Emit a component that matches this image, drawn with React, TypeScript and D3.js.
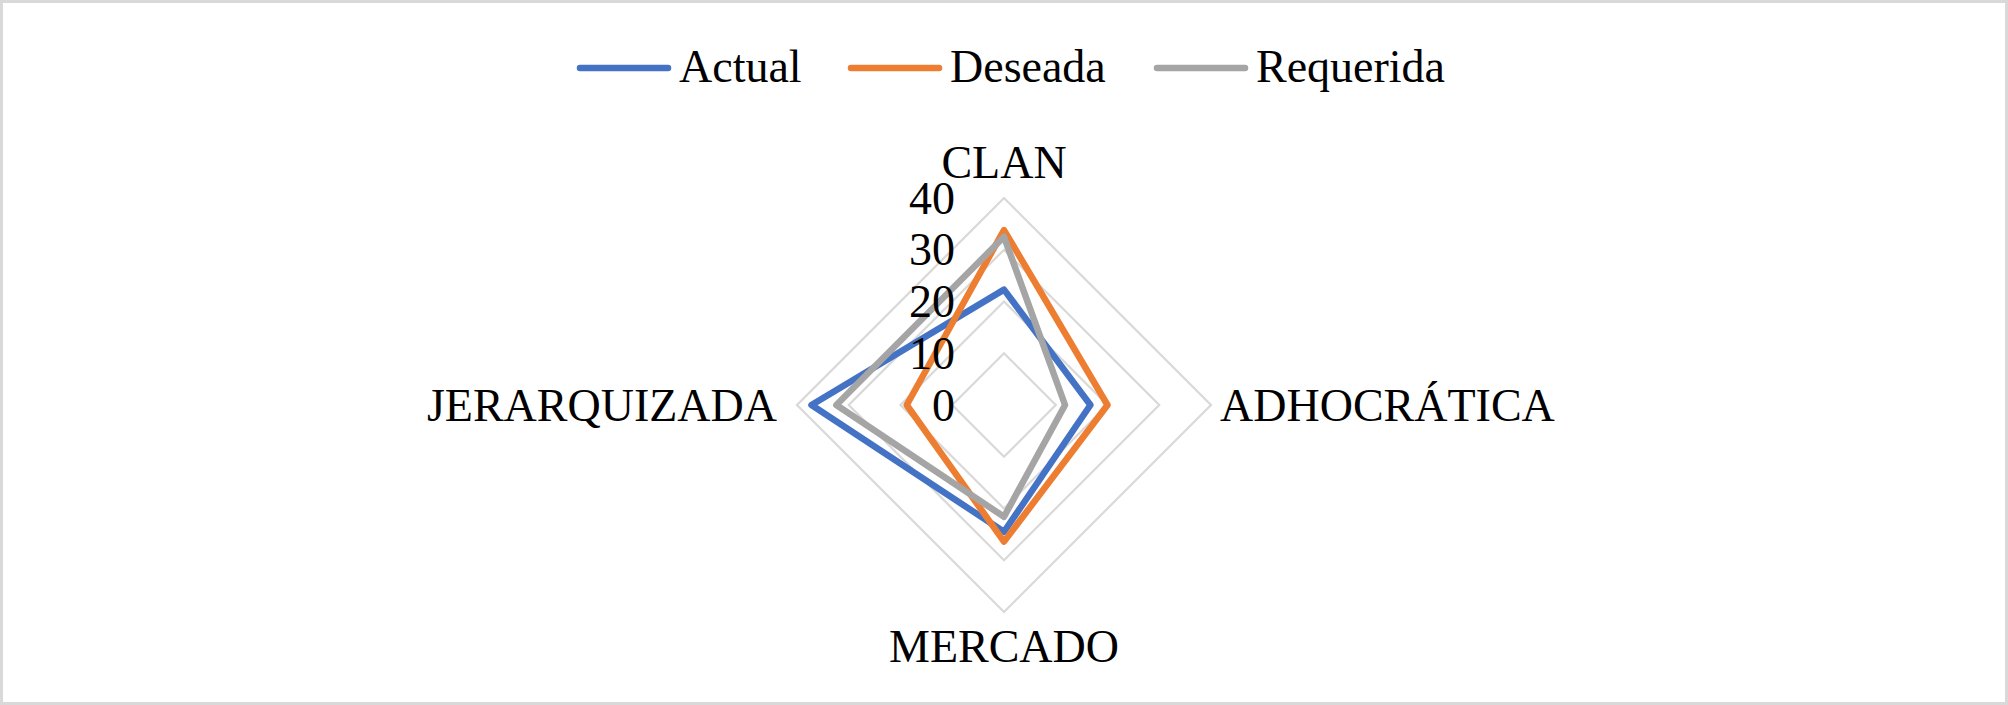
import React from "react";
import * as d3 from "d3";

const categories = ["CLAN", "ADHOCRÁTICA", "MERCADO", "JERARQUIZADA"];
const seriesNames = ["Actual", "Deseada", "Requerida"];
const actual = [22.3, 16.7, 24.5, 37.2];
const deseada = [33.8, 20.0, 26.4, 18.8];
const requerida = [32.5, 11.8, 21.6, 32.4];
const ticks = [0, 10, 20, 30, 40];
const colors = ["#4472C4", "#ED7D31", "#A5A5A5"];

const W = 2008;
const H = 705;
const cx = 1004;
const cy = 405;
const R = 207;
const FONT = '"Liberation Serif", "Times New Roman", serif';
const FS = 46;

export default function App() {
  React.useEffect(() => {
    document.body.style.margin = "0";
  }, []);
  const r = d3.scaleLinear().domain([0, 40]).range([0, R]);
  const angle = (i: number) => (i * 2 * Math.PI) / categories.length;
  const radial = d3
    .lineRadial<number>()
    .angle((_, i) => angle(i))
    .radius((d) => r(d))
    .curve(d3.curveLinearClosed);
  const allSeries = [actual, deseada, requerida];
  const ringVals = ticks.filter((t) => t > 0);

  const legendX = [580, 851, 1157];
  const legendY = 68;

  return (
    <svg width={W} height={H} style={{ display: "block" }} fontFamily={FONT}>
      <rect x={1.5} y={1.5} width={W - 3} height={H - 3} fill="#fff" stroke="#D9D9D9" strokeWidth={3} />
      {/* legend */}
      {seriesNames.map((n, i) => (
        <g key={n}>
          <line
            x1={legendX[i]}
            x2={legendX[i] + 88}
            y1={legendY}
            y2={legendY}
            stroke={colors[i]}
            strokeWidth={6.5}
            strokeLinecap="round"
          />
          <text x={legendX[i] + 99} y={legendY + 14} fontSize={FS} fill="#000">
            {n}
          </text>
        </g>
      ))}
      <g transform={`translate(${cx},${cy})`}>
        {ringVals.map((t) => (
          <path
            key={t}
            d={radial(categories.map(() => t)) || ""}
            fill="none"
            stroke="#D9D9D9"
            strokeWidth={2.25}
          />
        ))}
        {allSeries.map((s, i) => (
          <path
            key={i}
            d={radial(s) || ""}
            fill="none"
            stroke={colors[i]}
            strokeWidth={6.5}
            strokeLinejoin="round"
          />
        ))}
        {ticks.map((t) => (
          <text key={t} x={-49} y={-r(t) + 15.5} textAnchor="end" fontSize={FS} fill="#000">
            {t}
          </text>
        ))}
        <text x={0} y={-r(40) - 20} textAnchor="middle" fontSize={FS} fill="#000">
          {categories[0]}
        </text>
        <text x={r(40) + 9} y={15.5} textAnchor="start" fontSize={FS} fill="#000">
          {categories[1]}
        </text>
        <text x={0} y={r(40) + 50} textAnchor="middle" fontSize={FS} fill="#000">
          {categories[2]}
        </text>
        <text x={-r(40) - 20} y={15.5} textAnchor="end" fontSize={FS} fill="#000">
          {categories[3]}
        </text>
      </g>
    </svg>
  );
}
